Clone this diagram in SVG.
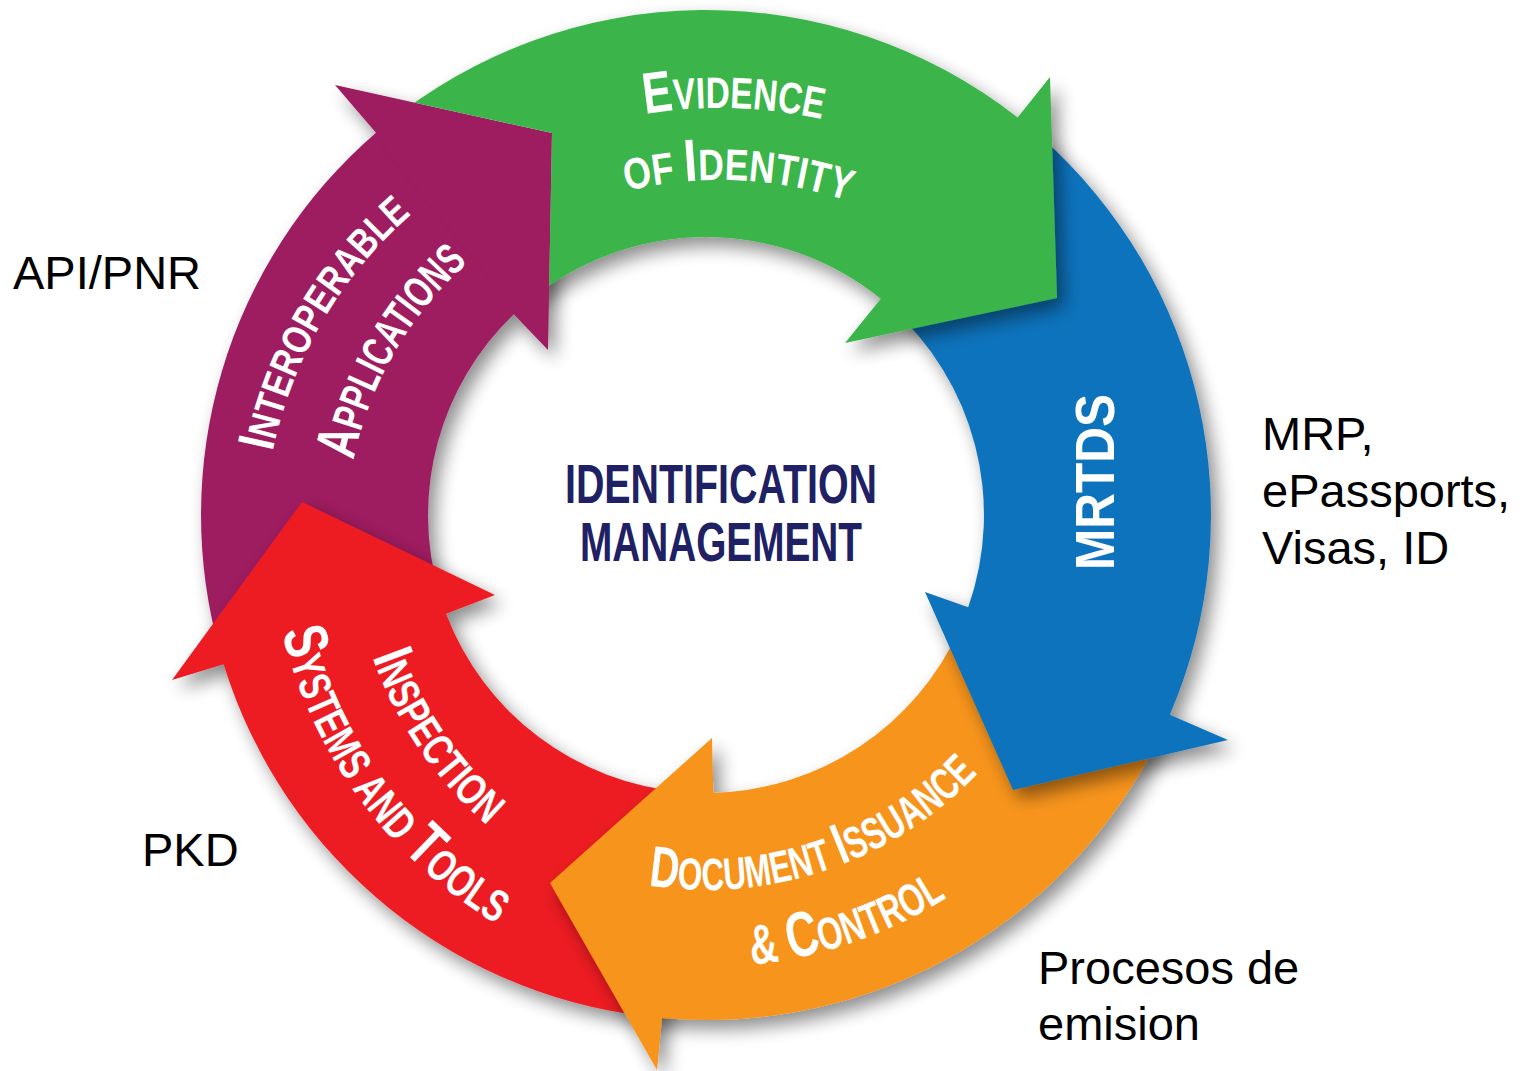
<svg xmlns="http://www.w3.org/2000/svg" width="1530" height="1071" viewBox="0 0 1530 1071">
<defs>
<style>
.arrow{filter:url(#sh)}
.rt{font-family:"Liberation Sans Narrow","Liberation Sans",Arial,sans-serif;font-weight:bold;fill:#ffffff}
.lbl{font-family:"Liberation Sans",Arial,sans-serif;font-size:47px;fill:#000000}
.ctr{font-family:"Liberation Sans Narrow","Liberation Sans",Arial,sans-serif;font-weight:bold;font-size:56px;fill:#202064}
</style>
<filter id="sh" x="-20%" y="-20%" width="140%" height="140%">
<feGaussianBlur in="SourceAlpha" stdDeviation="9"/>
<feOffset dx="7" dy="9"/>
<feComponentTransfer><feFuncA type="linear" slope="0.45"/></feComponentTransfer>
<feMerge><feMergeNode/><feMergeNode in="SourceGraphic"/></feMerge>
</filter>
<clipPath id="noPurpleHead" clipPathUnits="userSpaceOnUse">
<path clip-rule="evenodd" d="M0,0 H1530 V1071 H0 Z M335,85 L552,133 L548,350 Z"/>
</clipPath>
<path id="tpEvidence" d="M645,114 A472,472 0 0 1 822,119.2"/>
<path id="tpOfIdentity" d="M625,191.4 A400,400 0 0 1 850,201.7"/>
<path id="tpInterop" d="M272,455 A430,430 0 0 1 414,212"/>
<path id="tpApps" d="M353,463 A360,360 0 0 1 470,261"/>
<path id="tpDocIss" d="M646.7,885.3 A375,375 0 0 0 978.9,772.2"/>
<path id="tpControl" d="M751.7,964.7 A452,452 0 0 0 946.9,897.5"/>
<path id="tpInspection" d="M372,656 A400,400 0 0 0 488,826"/>
<path id="tpSystems" d="M281,628 A470,470 0 0 0 500,926"/>
</defs>
<rect width="1530" height="1071" fill="#ffffff"/>

<g id="node-interoperable-applications">
<path class="arrow" fill="#9E1E60" d="M220.6,654.2 A505,505 0 0 1 376,132.7 L335,85 L552,133 L548,350 L513.8,314.2 A278,278 0 0 0 438.8,591.6 Z"/>
<text class="rt"><textPath href="#tpInterop" startOffset="50%" text-anchor="middle" textLength="280" lengthAdjust="spacingAndGlyphs"><tspan font-size="52">I</tspan><tspan font-size="41">NTEROPERABLE</tspan></textPath></text>
<text class="rt"><textPath href="#tpApps" startOffset="50%" text-anchor="middle" textLength="232" lengthAdjust="spacingAndGlyphs"><tspan font-size="58">A</tspan><tspan font-size="44">PPLICATIONS</tspan></textPath></text>
</g>

<g id="node-inspection-systems">
<path class="arrow" fill="#ED1C24" d="M664.2,1018.3 A505,505 0 0 1 223.6,664.3 L172,680 L302,502 L495,595 L446.1,613.7 A278,278 0 0 0 683,792 Z"/>
<text class="rt"><textPath href="#tpInspection" startOffset="50%" text-anchor="middle" textLength="206" lengthAdjust="spacingAndGlyphs"><tspan font-size="58">I</tspan><tspan font-size="44">NSPECTION</tspan></textPath></text>
<text class="rt"><textPath href="#tpSystems" startOffset="50%" text-anchor="middle" textLength="372" lengthAdjust="spacingAndGlyphs"><tspan font-size="62">S</tspan><tspan font-size="45">YSTEMS AND </tspan><tspan font-size="62">T</tspan><tspan font-size="45">OOLS</tspan></textPath></text>
</g>

<g id="node-document-issuance">
<path class="arrow" fill="#F7941D" d="M1166.1,723.2 A505,505 0 0 1 662,1018.1 L657,1070 L550,883 L712,738 L713.3,792.9 A278,278 0 0 0 959.3,629.6 Z"/>
<text class="rt"><textPath href="#tpDocIss" startOffset="50%" text-anchor="middle" textLength="362" lengthAdjust="spacingAndGlyphs"><tspan font-size="58">D</tspan><tspan font-size="45">OCUMENT </tspan><tspan font-size="58">I</tspan><tspan font-size="45">SSUANCE</tspan></textPath></text>
<text class="rt"><textPath href="#tpControl" startOffset="50%" text-anchor="middle" textLength="208" lengthAdjust="spacingAndGlyphs"><tspan font-size="56">&amp; </tspan><tspan font-size="64">C</tspan><tspan font-size="46">ONTROL</tspan></textPath></text>
</g>

<g id="node-mrtds">
<path class="arrow" fill="#1173BC" d="M1040.6,136.8 A505,505 0 0 1 1169.8,714.8 L1228,740 L1013,790 L925,592 L968.2,607.3 A278,278 0 0 0 890.2,306.8 Z"/>
<text class="rt" font-size="56" transform="translate(1114,482) rotate(-90)" text-anchor="middle" textLength="176" lengthAdjust="spacingAndGlyphs">MRTDS</text>
</g>

<g id="node-evidence-of-identity">
<path class="arrow" fill="#3BB54A" clip-path="url(#noPurpleHead)" d="M385.9,124.4 A505,505 0 0 1 1017.6,117.6 L1050,77 L1057,298 L845,343 L880.8,298.8 A278,278 0 0 0 529.8,300 Z"/>
<text class="rt"><textPath href="#tpEvidence" startOffset="50%" text-anchor="middle" textLength="178" lengthAdjust="spacingAndGlyphs"><tspan font-size="58">E</tspan><tspan font-size="44">VIDENCE</tspan></textPath></text>
<text class="rt"><textPath href="#tpOfIdentity" startOffset="50%" text-anchor="middle" textLength="225" lengthAdjust="spacingAndGlyphs"><tspan font-size="44">OF </tspan><tspan font-size="60">I</tspan><tspan font-size="44">DENTITY</tspan></textPath></text>
</g>

<g id="node-center">
<text class="ctr" x="721" y="503" text-anchor="middle" textLength="312" lengthAdjust="spacingAndGlyphs">IDENTIFICATION</text>
<text class="ctr" x="721" y="561" text-anchor="middle" textLength="282" lengthAdjust="spacingAndGlyphs">MANAGEMENT</text>
</g>

<g id="connectors"></g>

<g id="label-api">
<text class="lbl" x="13" y="289">API/PNR</text>
</g>
<g id="label-mrp">
<text class="lbl" x="1262" y="450">MRP,</text>
<text class="lbl" x="1262" y="507">ePassports,</text>
<text class="lbl" x="1262" y="564">Visas, ID</text>
</g>
<g id="label-pkd">
<text class="lbl" x="142" y="866">PKD</text>
</g>
<g id="label-procesos">
<text class="lbl" x="1038" y="984">Procesos de</text>
<text class="lbl" x="1038" y="1040">emision</text>
</g>
</svg>
